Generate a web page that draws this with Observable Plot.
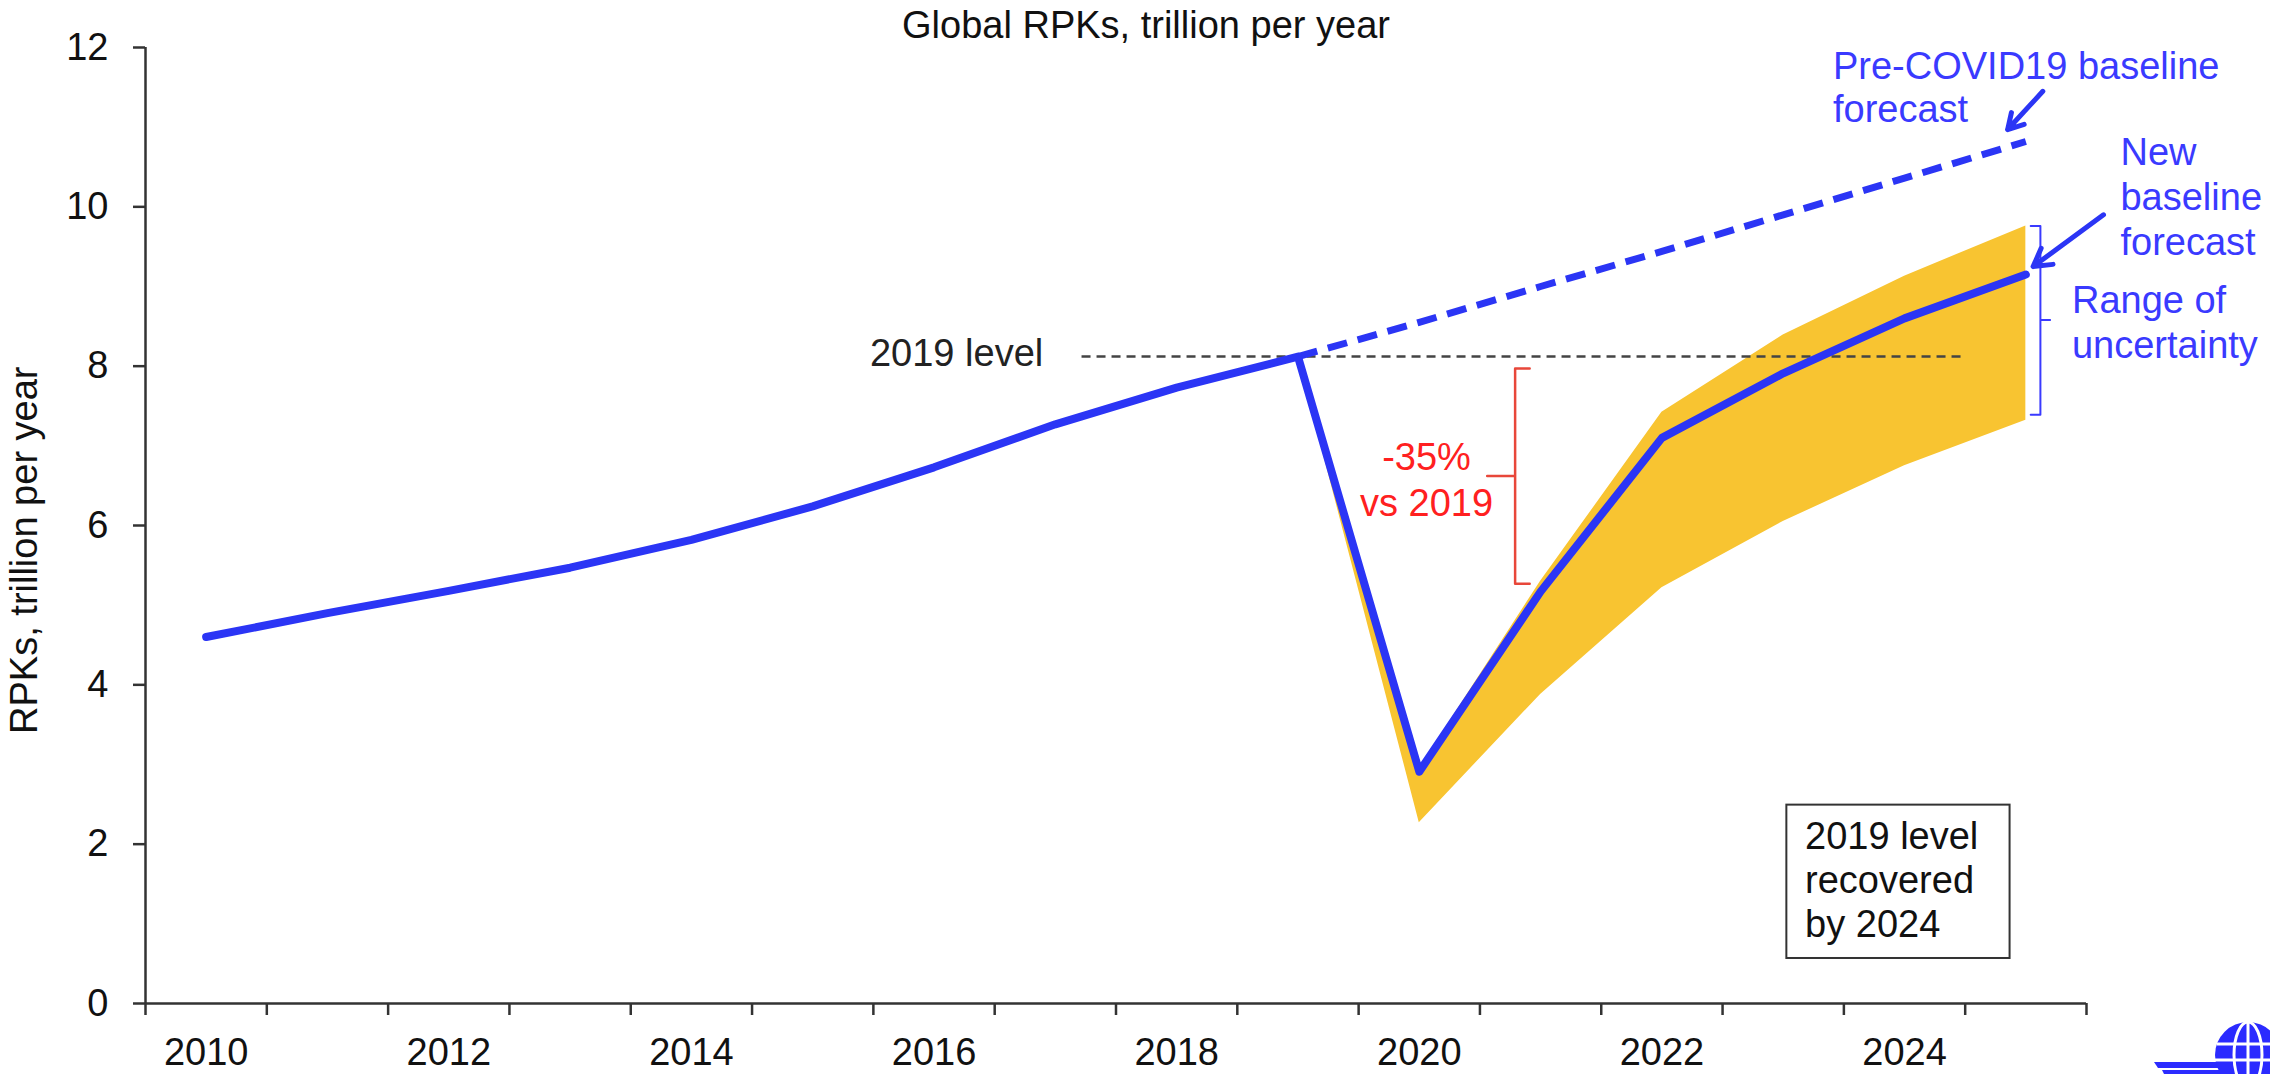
<!DOCTYPE html>
<html>
<head>
<meta charset="utf-8">
<script src="https://cdn.jsdelivr.net/npm/d3@7"></script>
<script src="https://cdn.jsdelivr.net/npm/@observablehq/plot@0.6"></script>
<style>
  html, body { margin: 0; padding: 0; background: #fff; }
  #wrap { position: relative; width: 2270px; height: 1074px; overflow: hidden;
          font-family: "Liberation Sans", Arial, Helvetica, sans-serif; }
  #title { position: absolute; left: 0; width: 2292px; top: 6px; text-align: center;
           font-size: 38px; line-height: 38px; color: #111; }
  #logo { position: absolute; left: 2140px; top: 1010px; }
</style>
</head>
<body>
<div id="wrap">
  <div id="chart"></div>
  <div id="title">Global RPKs, trillion per year</div>
  <svg id="logo" width="130" height="64" viewBox="0 0 130 64">
    <path d="M14 52 L86 52 L84 58 L18 58 Z" fill="#2b2bff"/>
    <path d="M22 60 L84 60 L83 64 L24 64 Z" fill="#2b2bff"/>
    <circle cx="108" cy="45" r="33" fill="#2b2bff"/>
    <g fill="none" stroke="#fff" stroke-width="3">
      <ellipse cx="108" cy="45" rx="14" ry="33"/>
      <line x1="108" y1="12" x2="108" y2="78"/>
      <line x1="77" y1="34" x2="139" y2="34"/>
      <line x1="75" y1="50" x2="141" y2="50"/>
    </g>
  </svg>
</div>
<script>
// ---------- data ----------
const years      = [2010, 2011, 2012, 2013, 2014, 2015, 2016, 2017, 2018, 2019, 2020, 2021, 2022, 2023, 2024, 2025];
const rpk        = [4.60, 4.90, 5.18, 5.47, 5.82, 6.24, 6.73, 7.27, 7.73, 8.12, 2.91, 5.17, 7.10, 7.91, 8.60, 9.15];

const preYears   = [2019, 2020, 2021, 2022, 2023, 2024, 2025];
const preCovid   = [8.12, 8.55, 9.00, 9.44, 9.90, 10.36, 10.82];

const bandYears  = [2019, 2020, 2021, 2022, 2023, 2024, 2025];
const bandLow    = [8.12, 2.27, 3.88, 5.22, 6.05, 6.75, 7.32];
const bandHigh   = [8.12, 2.95, 5.30, 7.42, 8.39, 9.13, 9.76];

const level2019      = 8.12;
const level2019Span  = [2017.22, 2024.47];

const yTicks      = [0, 2, 4, 6, 8, 10, 12];
const xLabelYears = [2010, 2012, 2014, 2016, 2018, 2020, 2022, 2024];

// ---------- annotations (data coordinates) ----------
const notes = [
  {x: 2016.90, y: 8.00, text: "2019 level", anchor: "end", color: "#222", lh: 1.15},
  {x: 2023.41, y: 11.06, text: "Pre-COVID19 baseline\nforecast", anchor: "start", color: "#3a3aff", lh: 1.13},
  {x: 2025.78, y: 9.40, text: "New\nbaseline\nforecast", anchor: "start", color: "#3a3aff", lh: 1.18},
  {x: 2025.38, y: 8.10, text: "Range of\nuncertainty", anchor: "start", color: "#3a3aff", lh: 1.18},
  {x: 2020.06, y: 6.12, text: "-35%\nvs 2019", anchor: "middle", color: "#ff2020", lh: 1.21},
  {x: 2023.18, y: 0.84, text: "2019 level\nrecovered\nby 2024", anchor: "start", color: "#111", lh: 1.158}
];
const arrows = [
  {x1: 2025.14, y1: 11.45, x2: 2024.85, y2: 10.97},
  {x1: 2025.64, y1: 9.90,  x2: 2025.06, y2: 9.25}
];
const redBrace = [
  {x: 2020.91, y: 7.97}, {x: 2020.79, y: 7.97}, {x: 2020.79, y: 6.62}, {x: 2020.56, y: 6.62},
  {x: 2020.79, y: 6.62}, {x: 2020.79, y: 5.27}, {x: 2020.91, y: 5.27}
];
const blueBrace = [
  {x: 2025.04, y: 9.76}, {x: 2025.12, y: 9.76}, {x: 2025.12, y: 8.58}, {x: 2025.20, y: 8.58},
  {x: 2025.12, y: 8.58}, {x: 2025.12, y: 7.39}, {x: 2025.04, y: 7.39}
];
const box = [{x1: 2023.03, x2: 2024.87, y1: 0.565, y2: 2.49}];

// ---------- tables ----------
const mainLine = years.map((year, i) => ({year, value: rpk[i]}));
const preLine  = preYears.map((year, i) => ({year, value: preCovid[i]}));
const band     = bandYears.map((year, i) => ({year, low: bandLow[i], high: bandHigh[i]}));
const bandEdges = years.map(y => y - 0.5).concat([years[years.length - 1] + 0.5]);

const blue = "#2b35f5";
const axisColor = "#333";

const chart = Plot.plot({
  width: 2270,
  height: 1074,
  marginLeft: 145,
  marginRight: 184,
  marginTop: 47,
  marginBottom: 71,
  x: {domain: [2009.5, 2025.5], label: null},
  y: {domain: [0, 12], label: null},
  style: {fontFamily: '"Liberation Sans", Arial, Helvetica, sans-serif', fontSize: "38px", color: "#111", background: "white", overflow: "visible"},
  marks: [
    Plot.areaY(band, {x: "year", y1: "low", y2: "high", fill: "#f8c431"}),
    Plot.ruleY([level2019], {x1: level2019Span[0], x2: level2019Span[1], stroke: "#444", strokeWidth: 2.5, strokeDasharray: "9,6"}),
    Plot.lineY(preLine, {x: "year", y: "value", stroke: blue, strokeWidth: 7, strokeDasharray: "20,11", strokeLinecap: "butt"}),
    Plot.lineY(mainLine, {x: "year", y: "value", stroke: blue, strokeWidth: 8}),
    // axes
    Plot.ruleX([2009.5], {y1: 0, y2: 12, stroke: axisColor, strokeWidth: 2.5}),
    Plot.ruleY([0], {x1: 2009.5, x2: 2025.5, stroke: axisColor, strokeWidth: 2.5}),
    Plot.axisY({ticks: yTicks, tickSize: 12, tickPadding: 25, stroke: axisColor, strokeWidth: 2.5, fill: "#111", fontSize: 38, label: null}),
    Plot.axisX({ticks: bandEdges, tickSize: 12, stroke: axisColor, strokeWidth: 2.5, fill: "none", label: null}),
    Plot.axisX({ticks: xLabelYears, tickSize: 0, tickPadding: 35, tickFormat: "d", fill: "#111", fontSize: 38, label: null}),
    Plot.text(["RPKs, trillion per year"], {x: () => 2009.5, y: () => 5.69, rotate: -90, dx: -121, lineAnchor: "middle", fontSize: 38, fill: "#111"}),
    // annotations
    Plot.rect(box, {x1: "x1", x2: "x2", y1: "y1", y2: "y2", fill: "none", stroke: "#333", strokeWidth: 2}),
    Plot.line(redBrace, {x: "x", y: "y", stroke: "#e8473a", strokeWidth: 2.5, curve: "linear"}),
    Plot.line(blueBrace, {x: "x", y: "y", stroke: "#3a3aff", strokeWidth: 2, curve: "linear"}),
    Plot.arrow(arrows, {x1: "x1", y1: "y1", x2: "x2", y2: "y2", stroke: blue, strokeWidth: 5, headLength: 6}),
    ...notes.map(n => Plot.text([n], {x: "x", y: "y", text: "text", textAnchor: n.anchor, lineAnchor: "bottom", lineHeight: n.lh, fill: n.color, fontSize: 38}))
  ]
});
document.getElementById("chart").appendChild(chart);
</script>
</body>
</html>
